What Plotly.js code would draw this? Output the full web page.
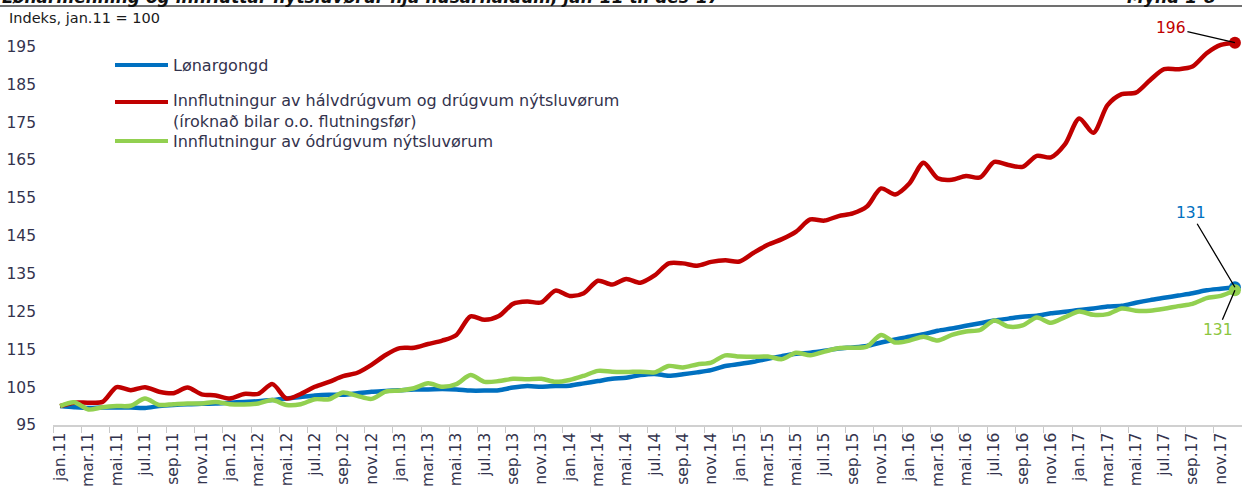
<!DOCTYPE html>
<html>
<head>
<meta charset="utf-8">
<script src="https://cdn.plot.ly/plotly-3.0.1.min.js"></script>
<style>
  html, body { margin: 0; padding: 0; background: #ffffff; }
  #chart { width: 1242px; height: 494px; }
</style>
</head>
<body>
<div id="chart"></div>
<script>
// ---- data ----
const monthAbbr = ["jan", "feb", "mar", "apr", "mai", "jun", "jul", "aug", "sep", "okt", "nov", "des"];
const yearSuffix = ["11", "12", "13", "14", "15", "16", "17"];
const categories = [];
yearSuffix.forEach(function (yy) { monthAbbr.forEach(function (m) { categories.push(m + "." + yy); }); });

const seriesNames = [
  "Lønargongd",
  "Innflutningur av hálvdrúgvum og drúgvum nýtsluvørum<br>(íroknað bilar o.o. flutningsfør)",
  "Innflutningur av ódrúgvum nýtsluvørum"
];

const wageIndex = [
  100.0, 99.7, 99.5, 99.6, 99.6, 99.6, 99.5, 100.0, 100.3, 100.5, 100.6, 100.7,
  100.9, 101.1, 101.3, 101.6, 102.0, 102.4, 102.8, 103.0, 103.0, 103.4, 103.8, 104.0,
  104.2, 104.4, 104.4, 104.5, 104.4, 104.1, 104.1, 104.2, 104.9, 105.3, 105.1, 105.3,
  105.4, 106.0, 106.6, 107.2, 107.5, 108.2, 108.5, 108.0, 108.4, 108.9, 109.5, 110.6,
  111.1, 111.7, 112.5, 113.2, 113.8, 114.1, 114.6, 115.2, 115.5, 115.9, 116.8, 117.6,
  118.3, 119.0, 119.9, 120.5, 121.2, 121.9, 122.6, 123.1, 123.6, 123.9, 124.5, 124.9,
  125.4, 125.8, 126.3, 126.5, 127.3, 128.0, 128.6, 129.2, 129.8, 130.6, 131.0, 131.4
];

const durableImports = [
  100.0, 100.9, 100.9, 101.1, 105.0, 104.2, 105.0, 103.8, 103.4, 104.9, 103.1, 102.8,
  102.0, 103.2, 103.2, 105.8, 102.0, 103.2, 105.1, 106.4, 107.9, 108.8, 110.9, 113.5,
  115.3, 115.4, 116.4, 117.3, 118.8, 123.7, 122.8, 123.8, 127.0, 127.6, 127.4, 130.5,
  129.1, 129.8, 133.1, 132.1, 133.6, 132.6, 134.5, 137.7, 137.7, 137.1, 138.1, 138.5,
  138.2, 140.5, 142.6, 144.1, 146.1, 149.3, 149.0, 150.2, 150.9, 152.7, 157.5, 155.9,
  158.8, 164.3, 160.2, 159.8, 160.8, 160.4, 164.5, 163.7, 163.2, 166.1, 165.7, 169.2,
  176.0, 172.2, 179.5, 182.4, 182.8, 186.1, 189.0, 189.0, 189.7, 193.2, 195.4, 196.0
];

const nonDurableImports = [
  100.0, 101.0, 99.1, 99.7, 100.0, 100.1, 102.0, 100.3, 100.5, 100.7, 100.7, 101.1,
  100.5, 100.4, 100.7, 101.6, 100.3, 100.5, 101.8, 101.8, 103.6, 102.7, 101.9, 103.8,
  104.1, 104.7, 106.0, 105.1, 105.8, 108.2, 106.4, 106.6, 107.2, 107.1, 107.2, 106.4,
  106.9, 108.0, 109.3, 109.1, 109.0, 109.1, 108.9, 110.6, 110.2, 111.0, 111.5, 113.4,
  113.1, 113.0, 113.1, 112.4, 114.1, 113.4, 114.4, 115.3, 115.4, 115.7, 118.8, 116.8,
  117.3, 118.3, 117.3, 118.8, 119.7, 120.1, 122.6, 121.0, 121.3, 123.4, 122.0, 123.5,
  125.0, 124.1, 124.3, 125.8, 125.2, 125.2, 125.7, 126.4, 127.0, 128.5, 129.1, 130.6
];

const yTicks = [95, 105, 115, 125, 135, 145, 155, 165, 175, 185, 195];

// ---- styling ----
const BLUE = "#0070C0", RED = "#C00000", GREEN = "#92D050";
const FONT = "DejaVu Sans, Verdana, sans-serif";
const TXT = "#33334d";

// plot area geometry helpers (pixels -> paper)
const L = 53, T = 31, W = 1189, H = 394;
function px(xp) { return (xp - L) / W; }
function py(yp) { return (T + H - yp) / H; }

const series = [
  { y: wageIndex, color: BLUE },
  { y: durableImports, color: RED },
  { y: nonDurableImports, color: GREEN }
];

const traces = series.map(function (s, k) {
  return {
    type: "scatter", mode: "lines", x: categories, y: s.y, name: seriesNames[k],
    line: { color: s.color, width: 4.5, shape: "spline", smoothing: 0.8 },
    hoverinfo: "x+y", showlegend: false
  };
});

// end markers (last point of each series)
const last = categories.length - 1;
[durableImports, wageIndex, nonDurableImports].forEach(function (arr, k) {
  const col = [RED, BLUE, GREEN][k];
  traces.push({
    type: "scatter", mode: "markers", x: [categories[last]], y: [arr[last]],
    marker: { color: col, size: 12 }, showlegend: false, hoverinfo: "skip", cliponaxis: false
  });
});

// manual legend
const legendY = [65, 102, 141];
const legendTextY = [65, 111.5, 141];
const legendColors = [BLUE, RED, GREEN];
const shapes = [];
const annotations = [];
legendColors.forEach(function (c, k) {
  shapes.push({ type: "line", xref: "paper", yref: "paper", x0: px(115), x1: px(168),
    y0: py(legendY[k]), y1: py(legendY[k]), line: { color: c, width: 4 } });
  annotations.push({ xref: "paper", yref: "paper", x: px(171), y: py(legendTextY[k]),
    xanchor: "left", yanchor: "middle", align: "left", showarrow: false,
    text: seriesNames[k], font: { family: FONT, size: 16, color: TXT } });
});

// rule under the (cut-off) title
shapes.push({ type: "line", xref: "paper", yref: "paper", x0: px(0), x1: px(1242),
  y0: py(6), y1: py(6), line: { color: "#404040", width: 1.5 } });

// cut-off title at top
annotations.push({ xref: "paper", yref: "paper", x: px(0), y: py(9), xanchor: "left", yanchor: "bottom",
  showarrow: false, text: "<b><i>Lønarmenning og innfluttar nýtsluvørur hjá húsarhaldum, jan-11 til des-17</i></b>",
  font: { family: FONT, size: 17, color: "#111111" } });
annotations.push({ xref: "paper", yref: "paper", x: px(1125), y: py(9), xanchor: "left", yanchor: "bottom",
  showarrow: false, text: "<b><i>Mynd 1-8</i></b>", font: { family: FONT, size: 17, color: "#111111" } });

// unit label
annotations.push({ xref: "paper", yref: "paper", x: px(7), y: py(18), xanchor: "left", yanchor: "middle",
  showarrow: false, text: "Indeks, jan.11 = 100", font: { family: FONT, size: 14.5, color: "#1a1a1a" } });

// end-value labels
function endLabel(arr, color, ax, ay) {
  return { x: categories[last], y: arr[last], xref: "x", yref: "y",
    text: String(Math.round(arr[last])), showarrow: true, arrowhead: 0, arrowwidth: 1.3,
    arrowcolor: "#000000", ax: ax, ay: ay, standoff: 0,
    font: { family: FONT, size: 15.5, color: color } };
}
annotations.push(endLabel(durableImports, RED, -64, -15));
annotations.push(endLabel(wageIndex, BLUE, -44, -74));
annotations.push(endLabel(nonDurableImports, "#8CC63F", -17, 40));

const layout = {
  width: 1242, height: 494,
  margin: { l: L, r: 1242 - L - W, t: T, b: 494 - T - H, pad: 0 },
  paper_bgcolor: "#ffffff", plot_bgcolor: "#ffffff",
  showlegend: false,
  xaxis: {
    type: "category", categoryorder: "array", categoryarray: categories,
    range: [-0.5, categories.length - 0.5], dtick: 2, tickson: "boundaries",
    ticks: "outside", ticklen: 6, tickcolor: "#c8c8c8", tickwidth: 1,
    showline: true, linecolor: "#d0d0d0", linewidth: 1.5,
    showgrid: false, zeroline: false, tickangle: -90,
    tickfont: { family: FONT, size: 15.5, color: TXT }, fixedrange: true
  },
  yaxis: {
    range: [95, 95 + H / 3.785], tickvals: yTicks, ticktext: yTicks.map(String),
    showgrid: false, zeroline: false, showline: false, ticks: "",
    ticklabelstandoff: 16,
    tickfont: { family: FONT, size: 15.5, color: TXT }, fixedrange: true
  },
  shapes: shapes,
  annotations: annotations
};

Plotly.newPlot("chart", traces, layout, { displayModeBar: false, staticPlot: true });
</script>
</body>
</html>
